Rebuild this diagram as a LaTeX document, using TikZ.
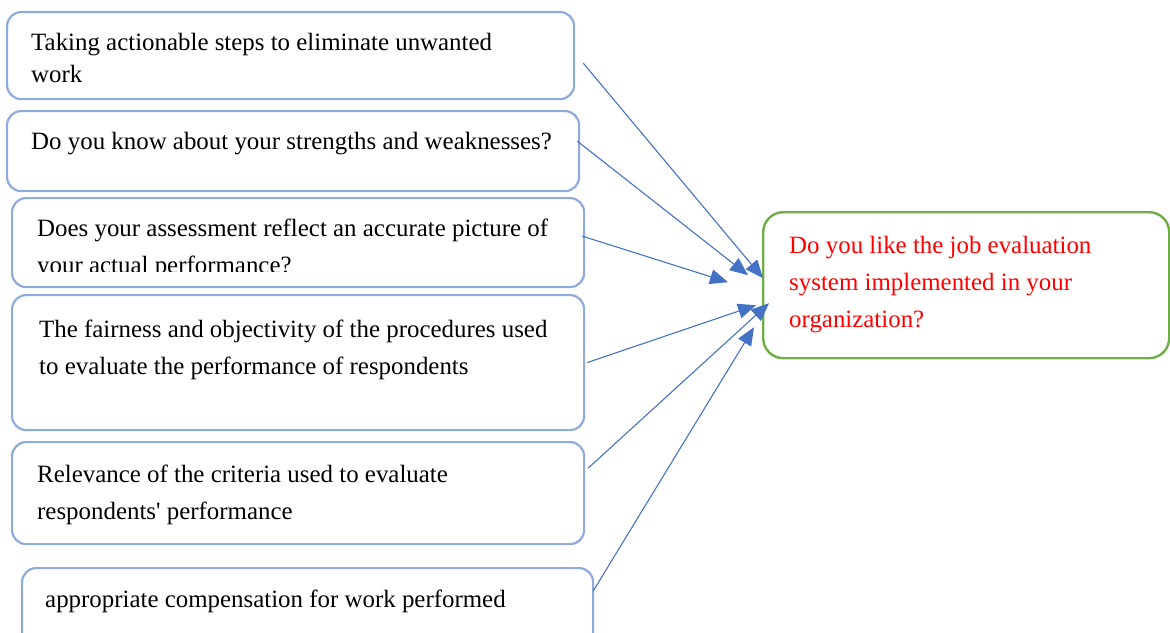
\documentclass[tikz,border=0pt]{standalone}
\usepackage{fontspec}
\setmainfont{Liberation Serif}
\usetikzlibrary{arrows.meta,calc}
\definecolor{boxblue}{HTML}{8FAADC}
\definecolor{arrowblue}{HTML}{4472C4}
\definecolor{boxgreen}{HTML}{70AD47}
\definecolor{qred}{HTML}{FF0000}

\begin{document}
\begin{tikzpicture}[x=1pt,y=-1pt,
  itembox/.style={draw=boxblue, line width=2.2pt, rounded corners=14pt,
    anchor=north west, inner sep=0pt},
  goalbox/.style={draw=boxgreen, line width=2.4pt, rounded corners=20pt,
    anchor=north west, inner sep=0pt},
  itemtext/.style={anchor=base west, inner sep=0pt,
    font=\fontsize{24.9}{37}\selectfont},
  tighttext/.style={itemtext, font=\fontsize{24.9}{32}\selectfont},
  connector/.style={draw=arrowblue, line width=1.1pt,
    -{Triangle[length=18pt,width=15pt]}}
]
\useasboundingbox (0,0) rectangle (1170,632);
\clip (0,0) rectangle (1170,632);

% factor boxes
\node[itembox, minimum width=567pt, minimum height=87pt]  (b1) at (6,11)  {};
\node[itembox, minimum width=572pt, minimum height=80pt]  (b2) at (6,110) {};
\node[itembox, minimum width=572pt, minimum height=89pt]  (b3) at (11,197) {};
\node[itembox, minimum width=572pt, minimum height=135pt] (b4) at (11,294) {};
\node[itembox, minimum width=572pt, minimum height=102pt] (b5) at (11,441) {};
\node[itembox, minimum width=571pt, minimum height=90pt]  (b6) at (21,567) {};

% outcome box
\node[goalbox, minimum width=406pt, minimum height=146pt] (g) at (762,211) {};

% box texts
\node[tighttext] (t1) at (31,50)
  {\begin{tabular}[t]{@{}l@{}}Taking actionable steps to eliminate unwanted\\work\end{tabular}};
\node[itemtext] (t2) at (31,149) {Do you know about your strengths and weaknesses?};
\begin{scope}
  \clip (11,197) rectangle (583,271);
  \node[itemtext] (t3) at (37,236)
    {\begin{tabular}[t]{@{}l@{}}Does your assessment reflect an accurate picture of\\your actual performance?\end{tabular}};
\end{scope}
\node[itemtext] (t4) at (39,337)
  {\begin{tabular}[t]{@{}l@{}}The fairness and objectivity of the procedures used\\to evaluate the performance of respondents\end{tabular}};
\node[itemtext] (t5) at (37,482)
  {\begin{tabular}[t]{@{}l@{}}Relevance of the criteria used to evaluate\\respondents\textquotesingle{} performance\end{tabular}};
\node[itemtext] (t6) at (45,607) {appropriate compensation for work performed};
\node[itemtext, text=qred] (tg) at (789,253)
  {\begin{tabular}[t]{@{}l@{}}Do you like the job evaluation\\system implemented in your\\organization?\end{tabular}};

% connectors
\draw[connector] ($(b1.east)+(8,7.5)$)        -- ($(g.west)+(1,-7)$);
\draw[connector] ($(b2.east)+(-3,-10)$)       -- ($(g.west)+(-14,-10)$);
\draw[connector] ($(b3.east)+(-3,-6.5)$)      -- ($(g.west)+(-34,-3)$);
\draw[connector] ($(b4.east)+(2,0)$)          -- ($(g.west)+(-6,20)$);
\draw[connector] ($(b5.east)+(3,-25)$)        -- ($(g.west)+(7,18)$);
\draw[connector] ($(b6.north east)+(-1,24)$)  -- ($(g.west)+(-8,42)$);
\end{tikzpicture}
\end{document}
